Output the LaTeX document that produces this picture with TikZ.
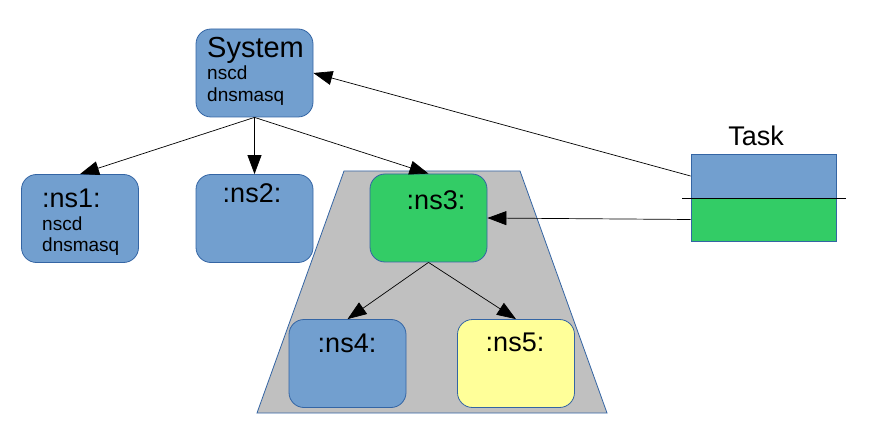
\documentclass[tikz,border=0pt]{standalone}
\usepackage{fontspec}
\setmainfont{Liberation Sans}
\usetikzlibrary{arrows.meta}
\definecolor{nsblue}{HTML}{729FCF}
\definecolor{nsgreen}{HTML}{33CC66}
\definecolor{nsyellow}{HTML}{FFFF99}
\definecolor{nsgray}{HTML}{C0C0C0}
\definecolor{boxline}{HTML}{3465A4}
\begin{document}
\begin{tikzpicture}[x=1pt,y=-1pt]
\tikzstyle{box}=[draw=boxline,rounded corners=15pt,minimum width=117pt,minimum height=88pt,inner sep=0pt,line width=0.8pt]
\tikzstyle{title}=[font=\fontsize{27}{31}\selectfont,inner sep=0pt,anchor=base]
\tikzstyle{small}=[font=\fontsize{19}{23}\selectfont,inner sep=0pt,anchor=base west]
\tikzstyle{link}=[-{Triangle[length=19pt,width=14pt]},line width=0.7pt]
\useasboundingbox (0,0) rectangle (875,446);
% the shared part
\draw[boxline,fill=nsgray,line width=0.8pt] (344,171) -- (520,171) -- (607,413) -- (257,413) -- cycle;
\foreach \name/\point/\col in {
	sys/{254.5,73}/nsblue,
	ns1/{80,218.5}/nsblue,
	ns2/{254.5,218.5}/nsblue,
	ns3/{428.5,218}/nsgreen,
	ns4/{347.5,363.5}/nsblue,
	ns5/{516,363.5}/nsyellow}
	\node[box,fill=\col] (\name) at (\point) {};
% texts
\node[title,font=\fontsize{29}{33}\selectfont,anchor=base west] (systxt) at (207,58) {System};
\node[small] (sysa) at (207,80) {nscd};
\node[small] (sysb) at (207,102) {dnsmasq};
\node[title,anchor=base west] (ns1txt) at (42,208) {:ns1:};
\node[small] (ns1a) at (42,231) {nscd};
\node[small] (ns1b) at (42,252) {dnsmasq};
\node[title] (ns2txt) at (252,203) {:ns2:};
\node[title] (ns3txt) at (436,210) {:ns3:};
\node[title] (ns4txt) at (347,352) {:ns4:};
\node[title] (ns5txt) at (515,351) {:ns5:};
% the task
\node[draw=boxline,fill=nsblue,minimum width=145pt,minimum height=44pt,inner sep=0pt,line width=0.8pt] (taskup) at (763.5,176) {};
\node[draw=boxline,fill=nsgreen,minimum width=145pt,minimum height=43pt,inner sep=0pt,line width=0.8pt] (taskdown) at (763.5,219.5) {};
\node[title] (tasktxt) at (756,146) {Task};
\coordinate (cutl) at (682,198);
\coordinate (cutr) at (846,198);
\draw[line width=0.7pt] (cutl) -- (cutr);
% arrows
\draw[link] (sys.south) -- (ns1.north);
\draw[link] (sys.south) -- (ns2.north);
\draw[link] (sys.south) -- (ns3.north);
\draw[link] (ns3.south) -- (ns4.north);
\draw[link] (ns3.south) -- (ns5.north);
\draw[link] (taskup.west) -- (sys.east);
\draw[link] (taskdown.west) -- (ns3.east);
\end{tikzpicture}
\end{document}
